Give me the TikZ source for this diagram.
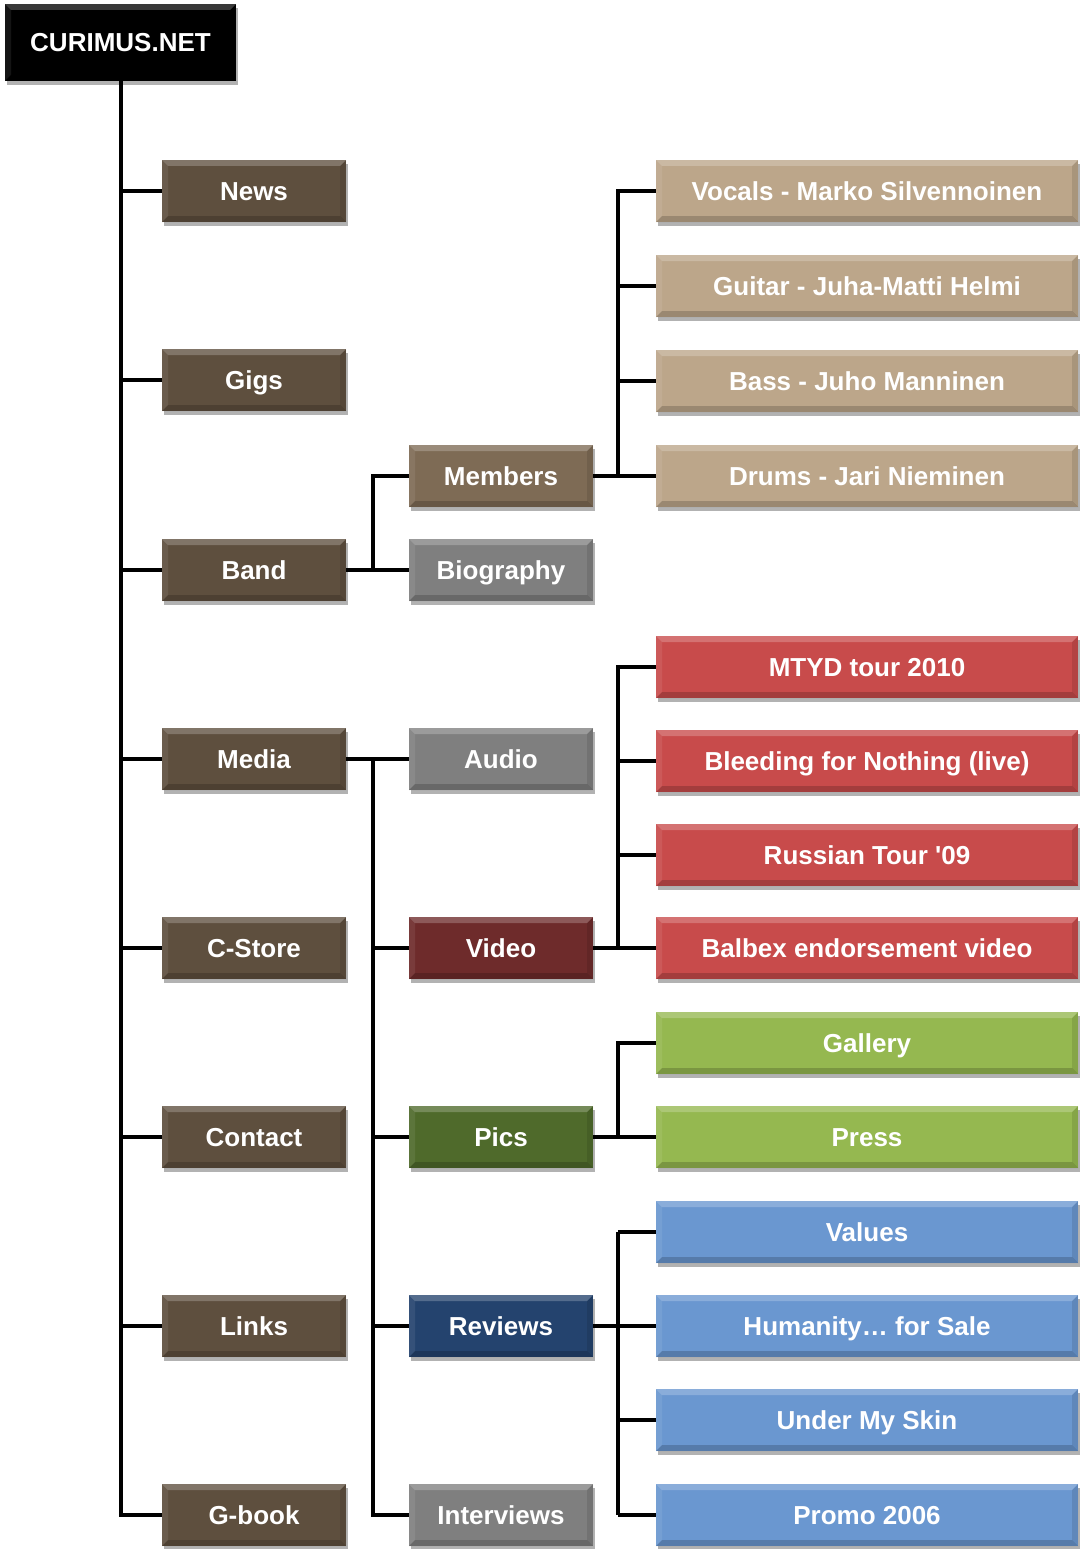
\documentclass[tikz,border=0pt]{standalone}
\usepackage{fontspec}
\setmainfont{Liberation Sans}
\usetikzlibrary{shadows}
\definecolor{cbrown}{HTML}{5E4F3E}
\definecolor{cmember}{HTML}{7E6B55}
\definecolor{ctan}{HTML}{BCA68A}
\definecolor{cgrey}{HTML}{7F7F7F}
\definecolor{cdred}{HTML}{6E2B2B}
\definecolor{cred}{HTML}{C84B4B}
\definecolor{cdgreen}{HTML}{4F6A2B}
\definecolor{cgreen}{HTML}{95B850}
\definecolor{cdblue}{HTML}{24436E}
\definecolor{cblue}{HTML}{6A97D0}
\tikzset{
  bevel/.style={path picture={
    \coordinate (bnw) at (path picture bounding box.north west);
    \coordinate (bne) at (path picture bounding box.north east);
    \coordinate (bsw) at (path picture bounding box.south west);
    \coordinate (bse) at (path picture bounding box.south east);
    \fill[white,opacity=0.22] (bnw) -- (bne) -- ([shift={(-6pt,-6pt)}]bne) -- ([shift={(6pt,-6pt)}]bnw) -- cycle;
    \fill[white,opacity=0.08] (bnw) -- ([shift={(6pt,-6pt)}]bnw) -- ([shift={(6pt,6pt)}]bsw) -- (bsw) -- cycle;
    \fill[black,opacity=0.18] (bsw) -- (bse) -- ([shift={(-6pt,6pt)}]bse) -- ([shift={(6pt,6pt)}]bsw) -- cycle;
    \fill[black,opacity=0.10] (bne) -- ([shift={(-6pt,-6pt)}]bne) -- ([shift={(-6pt,6pt)}]bse) -- (bse) -- cycle;
  }},
  box/.style={rectangle, bevel, inner sep=0pt, text=white,
    text height=18.6pt, text depth=0pt,
    font=\fontsize{26}{30}\selectfont\bfseries,
    drop shadow={shadow xshift=2pt, shadow yshift=-4pt, opacity=0.3, fill=black}},
  rootbox/.style={box, fill=black, minimum width=231pt, minimum height=77pt},
  lone/.style={box, fill=cbrown, minimum width=184pt, minimum height=62pt},
  ltwo/.style={box, minimum width=184pt, minimum height=62pt},
  lthree/.style={box, minimum width=422pt, minimum height=62pt},
  conn/.style={line width=4pt, black},
}
\begin{document}
\begin{tikzpicture}[x=1pt,y=-1pt]
\useasboundingbox (0,0) rectangle (1080,1549);
% root
\node[rootbox] (root) at (120.5,42.5) {CURIMUS.NET};
% level 1
\node[lone] (news) at (254,191) {News};
\node[lone] (gigs) at (254,380) {Gigs};
\node[lone] (band) at (254,570) {Band};
\node[lone] (media) at (254,759) {Media};
\node[lone] (cstore) at (254,948) {C-Store};
\node[lone] (contact) at (254,1137) {Contact};
\node[lone] (links) at (254,1326) {Links};
\node[lone] (gbook) at (254,1515) {G-book};
% level 2
\node[ltwo, fill=cmember] (members) at (501,476) {Members};
\node[ltwo, fill=cgrey] (bio) at (501,570) {Biography};
\node[ltwo, fill=cgrey] (audio) at (501,759) {Audio};
\node[ltwo, fill=cdred] (video) at (501,948) {Video};
\node[ltwo, fill=cdgreen] (pics) at (501,1137) {Pics};
\node[ltwo, fill=cdblue] (reviews) at (501,1326) {Reviews};
\node[ltwo, fill=cgrey] (interviews) at (501,1515) {Interviews};
% level 3
\node[lthree, fill=ctan] (vocals) at (867,191) {Vocals - Marko Silvennoinen};
\node[lthree, fill=ctan] (guitar) at (867,286) {Guitar - Juha-Matti Helmi};
\node[lthree, fill=ctan] (bass) at (867,381) {Bass - Juho Manninen};
\node[lthree, fill=ctan] (drums) at (867,476) {Drums - Jari Nieminen};
\node[lthree, fill=cred] (mtyd) at (867,667) {MTYD tour 2010};
\node[lthree, fill=cred] (bleeding) at (867,761) {Bleeding for Nothing (live)};
\node[lthree, fill=cred] (russian) at (867,855) {Russian Tour \textquotesingle09};
\node[lthree, fill=cred] (balbex) at (867,948) {Balbex endorsement video};
\node[lthree, fill=cgreen] (gallery) at (867,1043) {Gallery};
\node[lthree, fill=cgreen] (press) at (867,1137) {Press};
\node[lthree, fill=cblue] (values) at (867,1232) {Values};
\node[lthree, fill=cblue] (humanity) at (867,1326) {Humanity\ldots\ for Sale};
\node[lthree, fill=cblue] (skin) at (867,1420) {Under My Skin};
\node[lthree, fill=cblue] (promo) at (867,1515) {Promo 2006};
% junctions
\coordinate (bj) at (373,570);
\coordinate (mj) at (373,759);
\coordinate (mmj) at (618,476);
\coordinate (vj) at (618,948);
\coordinate (pj) at (618,1137);
\coordinate (rj) at (618,1326);
% trunk
\draw[conn] (root.south) |- (gbook.west);
\foreach \n in {news,gigs,band,media,cstore,contact,links}
  \draw[conn] (root.south |- \n.west) -- (\n.west);
% band
\draw[conn] (band.east) -- (bio.west);
\draw[conn] (bj) |- (members.west);
% media
\draw[conn] (media.east) -- (audio.west);
\draw[conn] (mj) |- (interviews.west);
\foreach \n in {video,pics,reviews}
  \draw[conn] (mj |- \n.west) -- (\n.west);
% members
\draw[conn] (members.east) -- (drums.west);
\draw[conn] (mmj) |- (vocals.west);
\foreach \n in {guitar,bass}
  \draw[conn] (mmj |- \n.west) -- (\n.west);
% video
\draw[conn] (video.east) -- (balbex.west);
\draw[conn] (vj) |- (mtyd.west);
\foreach \n in {bleeding,russian}
  \draw[conn] (vj |- \n.west) -- (\n.west);
% pics
\draw[conn] (pics.east) -- (press.west);
\draw[conn] (pj) |- (gallery.west);
% reviews
\draw[conn] (reviews.east) -- (humanity.west);
\draw[conn] (rj |- values.west) -- (rj |- promo.west);
\foreach \n in {values,skin,promo}
  \draw[conn] (rj |- \n.west) -- (\n.west);
\end{tikzpicture}
\end{document}
